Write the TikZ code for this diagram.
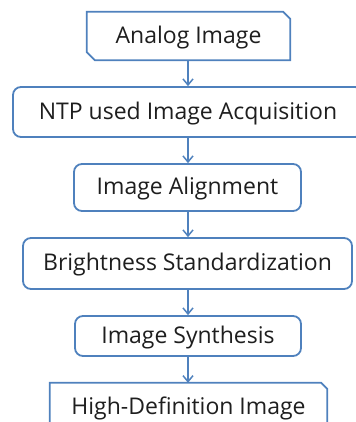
\documentclass[tikz,border=0pt]{standalone}
\usepackage{fontspec}
\setmainfont{Open Sans}
\usetikzlibrary{arrows.meta}
\definecolor{boxblue}{RGB}{79,129,189}
\definecolor{txtgray}{RGB}{30,30,30}
\tikzset{
  lbl/.style={font=\fontsize{23bp}{26bp}\selectfont, text=txtgray, inner sep=0pt, anchor=center,
    text height=14bp, text depth=0bp},
  rbox/.style={draw=boxblue, line width=1.8bp, rounded corners=8bp},
  cbox/.style={draw=boxblue, line width=1.8bp},
  arr/.style={draw=boxblue, line width=1.5bp, -{Straight Barb[length=6bp,width=10bp]}}
}
\begin{document}
\begin{tikzpicture}[x=1bp,y=-1bp]
\useasboundingbox (0,0) rectangle (356,422);
\clip (0,0) rectangle (356,422);
% nodes
\node[lbl, minimum width=203bp, minimum height=48bp] (analog) at (188.5,36) {Analog Image};
\node[lbl, rbox, minimum width=350bp, minimum height=50bp] (ntp) at (188,112) {NTP used Image Acquisition};
\node[lbl, rbox, minimum width=227bp, minimum height=47bp] (align) at (187.5,187.5) {Image Alignment};
\node[lbl, rbox, minimum width=329bp, minimum height=51bp] (bright) at (187.5,263.5) {Brightness Standardization};
\node[lbl, rbox, minimum width=226bp, minimum height=40bp] (synth) at (188,336) {Image Synthesis};
\node[lbl, minimum width=277bp, minimum height=48bp] (hd) at (188.5,407) {High-Definition Image};
% chamfered outlines
\draw[cbox] (analog.north west) -- ([xshift=-7bp]analog.north east) -- ([yshift=-7bp]analog.north east)
  -- (analog.south east) -- ([xshift=8bp]analog.south west) -- ([yshift=8bp]analog.south west) -- cycle;
\draw[cbox] (hd.north west) -- ([xshift=-6bp]hd.north east) -- ([yshift=-6bp]hd.north east)
  -- (hd.south east) -- ([xshift=8bp]hd.south west) -- ([yshift=8bp]hd.south west) -- cycle;
% connectors
\draw[arr] (analog.south -| ntp.north) -- (ntp.north);
\draw[arr] (ntp.south) -- (ntp.south |- align.north);
\draw[arr] (align.south -| ntp.south) -- (ntp.south |- bright.north);
\draw[arr] (bright.south -| ntp.south) -- (ntp.south |- synth.north);
\draw[arr] (synth.south -| ntp.south) -- (ntp.south |- hd.north);
\end{tikzpicture}
\end{document}
